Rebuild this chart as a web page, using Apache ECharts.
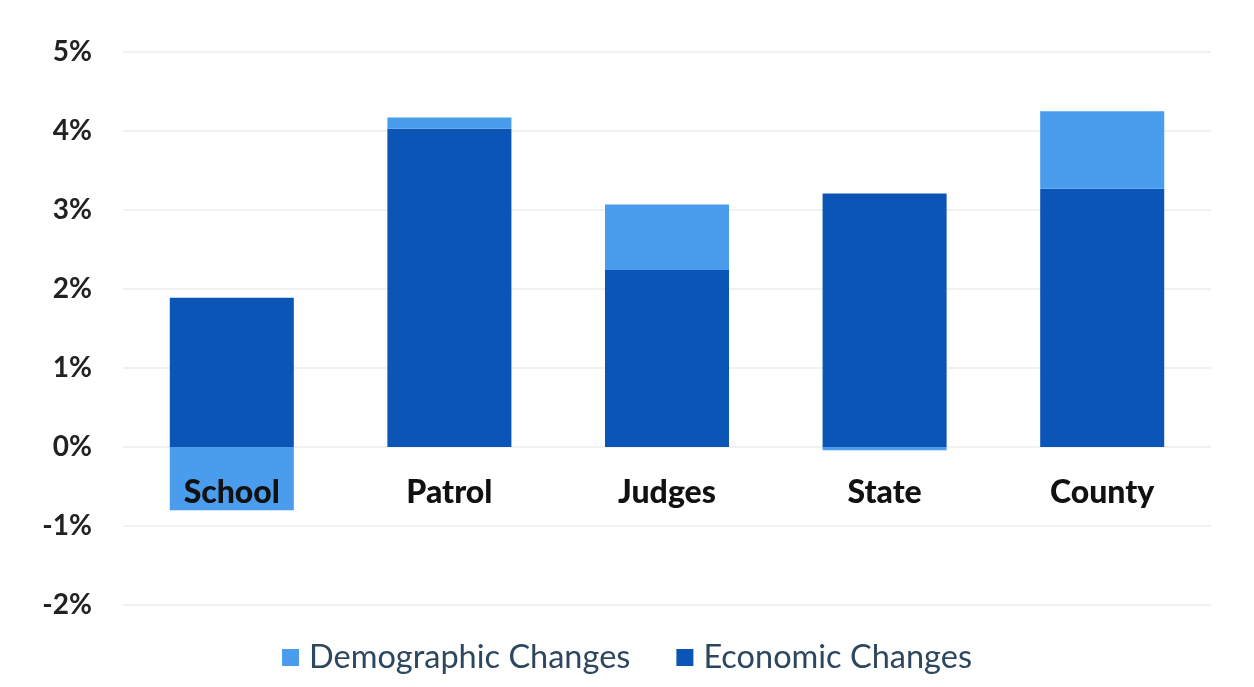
<!DOCTYPE html>
<html>
<head>
<meta charset="utf-8">
<script src="https://cdn.jsdelivr.net/npm/echarts@6/dist/echarts.min.js"></script>
<style>
  html, body { margin: 0; padding: 0; background: #ffffff; }
  #chart { width: 1254px; height: 687px; }
</style>
</head>
<body>
<div id="chart"></div>
<script>
// Cost growth split into economic and demographic drivers, by group
const categories = ['School', 'Patrol', 'Judges', 'State', 'County'];
const economicChanges = [1.89, 4.03, 2.24, 3.21, 3.27];
const demographicChanges = [-0.80, 0.14, 0.83, -0.04, 0.98];
const yTicks = [-2, -1, 0, 1, 2, 3, 4, 5];

const DARK = '#0a55b6';
const LIGHT = '#4a9ded';

const chart = echarts.init(document.getElementById('chart'));
chart.setOption({
  animation: false,
  backgroundColor: '#ffffff',
  grid: { left: 123, right: 43, top: 52, bottom: 82 },
  legend: {
    bottom: 8,
    left: 'center',
    itemWidth: 17,
    itemHeight: 17,
    itemGap: 46,
    icon: 'rect',
    data: ['Demographic Changes', 'Economic Changes'],
    textStyle: { fontFamily: 'Lato', fontSize: 32.5, color: '#2d4760', padding: [0, 0, 0, 5] }
  },
  xAxis: {
    type: 'category',
    data: categories,
    axisLine: { show: false },
    axisTick: { show: false },
    axisLabel: { show: false },
    splitLine: { show: false }
  },
  yAxis: {
    type: 'value',
    min: yTicks[0],
    max: yTicks[yTicks.length - 1],
    interval: 1,
    axisLine: { show: false },
    axisTick: { show: false },
    axisLabel: {
      margin: 31,
      fontFamily: 'Lato',
      fontWeight: 'bold',
      fontSize: 28,
      color: '#222222',
      formatter: v => v + '%'
    },
    splitLine: { lineStyle: { color: '#f1f1f1', width: 2 } }
  },
  series: [
    {
      name: 'Economic Changes',
      type: 'bar',
      stack: 'total',
      barCategoryGap: '43%',
      itemStyle: { color: DARK },
      data: economicChanges
    },
    {
      name: 'Demographic Changes',
      type: 'bar',
      stack: 'total',
      itemStyle: { color: LIGHT },
      data: demographicChanges
    },
    {
      // category names hung just below the zero line, over the bars
      name: 'categoryNames',
      type: 'scatter',
      z: 10,
      symbolSize: 0,
      silent: true,
      itemStyle: { color: '#111111', opacity: 1 },
      data: categories.map(c => [c, 0]),
      label: {
        show: true,
        position: 'bottom',
        distance: 30,
        formatter: p => p.value[0],
        fontFamily: 'Lato',
        fontWeight: 900,
        fontSize: 32,
        color: '#111111',
        opacity: 1
      }
    }
  ]
});
</script>
</body>
</html>
